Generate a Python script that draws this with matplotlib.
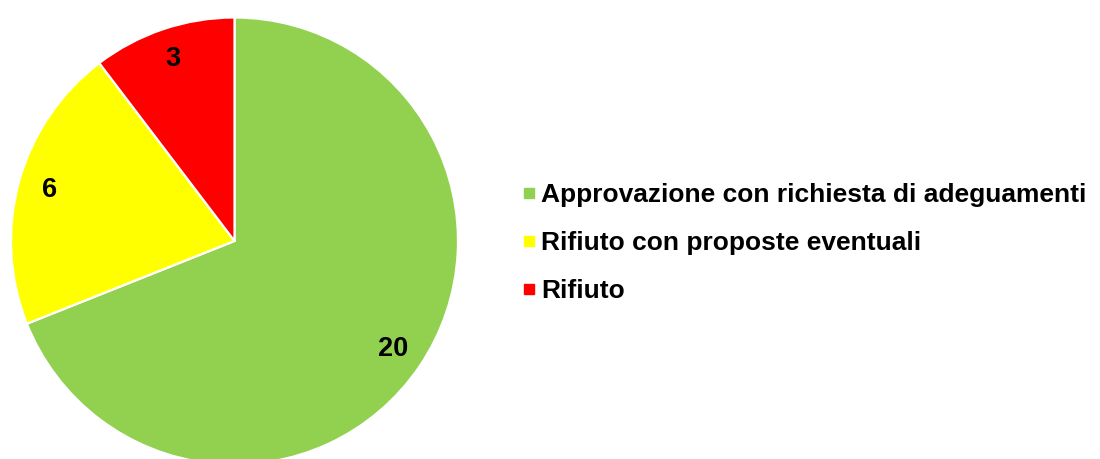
import matplotlib
matplotlib.use("Agg")
import matplotlib.pyplot as plt
from matplotlib.lines import Line2D

categories = ["Approvazione con richiesta di adeguamenti",
              "Rifiuto con proposte eventuali",
              "Rifiuto"]
values = [20, 6, 3]
colors = ["#92D050", "#FFFF00", "#FF0000"]

plt.rcParams["font.family"] = ["Liberation Sans", "DejaVu Sans"]

W, H = 1100, 459
fig = plt.figure(figsize=(W / 100, H / 100), dpi=100)

# pie axes placed in pixel terms: centre (234.5, 241 from top), radius 223.5
cx, cy, r = 234.5, H - 241, 223.5
ax = fig.add_axes([(cx - r) / W, (cy - r) / H, 2 * r / W, 2 * r / H])
wedges, texts = ax.pie(values, colors=colors, startangle=90, counterclock=False,
                       labels=[str(v) for v in values], labeldistance=0.86,
                       wedgeprops=dict(edgecolor="white", linewidth=1.6),
                       textprops=dict(fontsize=19.5, fontweight="bold", color="black"))
for t in texts:
    t.set_ha("center"); t.set_va("center")
ax.set_xlim(-1, 1); ax.set_ylim(-1, 1)
ax.set_aspect("equal")
ax.axis("off")

handles = [Line2D([], [], marker="s", ls="none", markersize=6.5, color=c) for c in colors]
fig.legend(handles, categories, loc="center left", bbox_to_anchor=(498.6 / W, 1 - 243 / H),
           frameon=False, handlelength=0.5, handletextpad=0.2, labelspacing=0.9,
           prop=dict(size=19, weight="bold"))

fig.savefig("out.png", dpi=100)
